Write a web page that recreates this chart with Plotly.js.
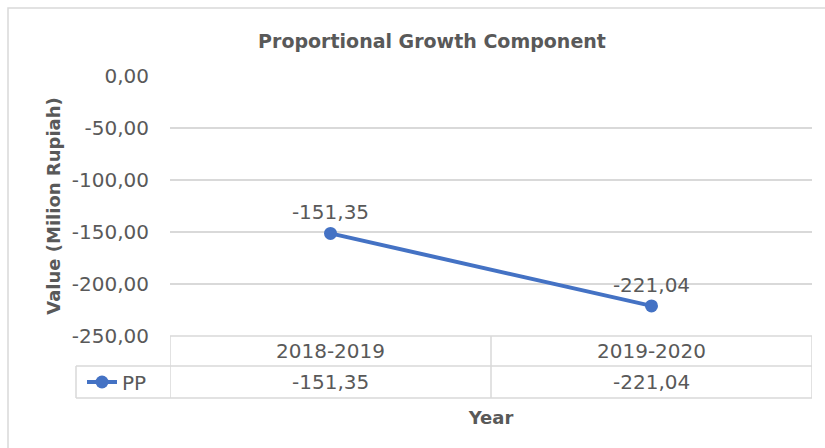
<!DOCTYPE html>
<html>
<head>
<meta charset="utf-8">
<script src="https://cdn.plot.ly/plotly-3.0.1.min.js"></script>
<style>html,body{margin:0;padding:0;background:#fff;}#chart{width:825px;height:448px;}</style>
</head>
<body>
<div id="chart"></div>
<script>
// ---- data ----
const categories = ['2018-2019', '2019-2020'];
const seriesName = 'PP';
const ppValues = [-151.35, -221.04];
const yTickValues = [0, -50, -100, -150, -200, -250];
const yTickLabels = ['0,00', '-50,00', '-100,00', '-150,00', '-200,00', '-250,00'];
const chartTitle = 'Proportional Growth Component';
const yTitle = 'Value (Milion Rupiah)';
const xTitle = 'Year';

// ---- helpers ----
const fmt = v => v.toFixed(2).replace('.', ',');
const FONT = 'DejaVu Sans';
const TXT = '#595959';
const GRID = '#d9d9d9';
const BLUE = '#4472C4';

// geometry (pixels -> paper)
const W = 825, H = 448, ML = 170, MR = 13, MT = 76, MB = 112;
const PW = W - ML - MR, PH = H - MT - MB;
const px = x => (x - ML) / PW;
const py = y => (MT + PH - y) / PH;

const row1Y = py(351), row2Y = py(382);
const midLine = py(366), bottomLine = py(398);
const legendLeft = px(76);

const annotations = [];
categories.forEach((c, i) => {
  annotations.push({x: c, y: row1Y, xref: 'x', yref: 'paper', text: c, showarrow: false,
    font: {family: FONT, size: 20, color: TXT}, xanchor: 'center', yanchor: 'middle'});
  annotations.push({x: c, y: row2Y, xref: 'x', yref: 'paper', text: fmt(ppValues[i]), showarrow: false,
    font: {family: FONT, size: 20, color: TXT}, xanchor: 'center', yanchor: 'middle'});
});

const lineStyle = {color: GRID, width: 1.5};
const shapes = [];
// outer chart frame
shapes.push({type: 'rect', xref: 'paper', yref: 'paper', x0: px(8), x1: px(840), y0: py(8), y1: py(470),
  line: {color: GRID, width: 1.5}, fillcolor: 'rgba(0,0,0,0)', layer: 'below'});
// table vertical lines (category boundaries)
for (let k = 0; k <= categories.length; k++) {
  shapes.push({type: 'line', xref: 'x', yref: 'paper', x0: k - 0.5, x1: k - 0.5, y0: 0, y1: bottomLine, line: lineStyle});
}
// legend cell left line
shapes.push({type: 'line', xref: 'paper', yref: 'paper', x0: legendLeft, x1: legendLeft, y0: midLine, y1: bottomLine, line: lineStyle});
// horizontal lines
shapes.push({type: 'line', xref: 'paper', yref: 'paper', x0: 0, x1: 1, y0: 0, y1: 0, line: lineStyle});
shapes.push({type: 'line', xref: 'paper', yref: 'paper', x0: legendLeft, x1: 1, y0: midLine, y1: midLine, line: lineStyle});
shapes.push({type: 'line', xref: 'paper', yref: 'paper', x0: legendLeft, x1: 1, y0: bottomLine, y1: bottomLine, line: lineStyle});

const trace = {
  x: categories,
  y: ppValues,
  name: seriesName,
  type: 'scatter',
  mode: 'lines+markers+text',
  line: {color: BLUE, width: 4},
  marker: {color: BLUE, size: 13},
  text: ppValues.map(fmt),
  textposition: 'top center',
  textfont: {family: FONT, size: 20, color: TXT},
  cliponaxis: false,
  hoverinfo: 'skip'
};

const layout = {
  width: W, height: H,
  margin: {l: ML, r: MR, t: MT, b: MB, pad: 0},
  paper_bgcolor: '#ffffff',
  plot_bgcolor: '#ffffff',
  title: {text: chartTitle, font: {family: FONT, size: 19, color: TXT, weight: 'bold'},
    xref: 'paper', x: px(432), xanchor: 'center', yref: 'container', y: 1 - 41 / H, yanchor: 'middle'},
  xaxis: {type: 'category', categoryarray: categories, range: [-0.5, categories.length - 0.5],
    showticklabels: false, showgrid: false, zeroline: false, showline: false, ticks: '',
    title: {text: xTitle, font: {family: FONT, size: 18, color: TXT, weight: 'bold'}, standoff: 75}},
  yaxis: {range: [-250, 0], tickvals: yTickValues, ticktext: yTickLabels,
    showgrid: true, gridcolor: GRID, gridwidth: 1.5, zeroline: false, showline: false, ticks: '',
    ticklabelstandoff: 20,
    tickfont: {family: FONT, size: 20, color: TXT},
    title: {text: yTitle, font: {family: FONT, size: 18, color: TXT, weight: 'bold'}, standoff: 6}},
  showlegend: true,
  legend: {x: px(82), xanchor: 'left', y: row2Y, yanchor: 'middle', orientation: 'h',
    bgcolor: 'rgba(0,0,0,0)', borderwidth: 0, font: {family: FONT, size: 20, color: TXT}},
  shapes: shapes,
  annotations: annotations
};

Plotly.newPlot('chart', [trace], layout, {staticPlot: true, displayModeBar: false});
</script>
</body>
</html>
